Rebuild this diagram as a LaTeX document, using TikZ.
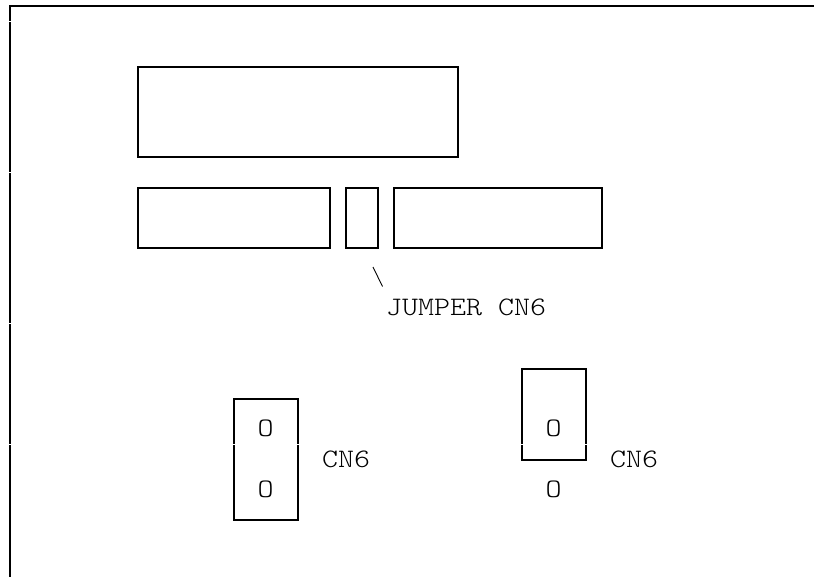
\documentclass[tikz,border=0pt]{standalone}
\usepackage{fontspec}
\setmonofont[FakeStretch=1.143]{Latin Modern Mono Light}
\usetikzlibrary{positioning}
\tikzset{
  board/.style={draw, line width=2pt, minimum width=#1, inner sep=0pt},
  lbl/.style={inner sep=0pt, font=\ttfamily\fontsize{26.67}{26.67}\selectfont, anchor=base west},
  pin/.style={inner sep=0pt, font=\ttfamily\fontsize{26.67}{26.67}\selectfont, anchor=base}
}
\begin{document}
\begin{tikzpicture}[x=1pt,y=-1pt]
\useasboundingbox (0,0) rectangle (814,577);
% frame
\coordinate (f0) at (9.7,577);
\coordinate (f1) at (9.7,6);
\coordinate (f2) at (814,6);
\draw[line width=2pt] (f0) -- (f1) -- (f2);
% boards
\node[board=320pt, minimum height=90pt] (top) at (298,112) {};
\node[board=192pt, minimum height=59.5pt] (left) at (234,218.25) {};
\node[board=32pt, minimum height=59.5pt] (mid) at (362,218.25) {};
\node[board=208pt, minimum height=59.5pt] (right) at (498,218.25) {};
% jumper label
\coordinate (s1) at (373,267);
\coordinate (s2) at (382.5,286.5);
\draw[line width=0.9pt] (s1) -- (s2);
\node[lbl] (jumper) at (386,316) {JUMPER CN6};
% connectors below
\node[board=64.3pt, minimum height=121pt] (cn1) at (265.85,459.5) {};
\node[board=64pt, minimum height=91pt] (cn2) at (554,414.5) {};
\foreach \name/\x/\y in {a/265.5/436.5, b/265.5/497, c/553.5/436.5, d/553.5/497}
  \node[pin] (\name) at (\x,\y) {O};
\node[lbl] (cn1lbl) at (322,467) {CN6};
\node[lbl] (cn2lbl) at (610,467) {CN6};
% breaks in the uprights
\foreach \x/\y in {9.7/21, 9.7/172, 9.7/323, 9.7/444, 233.7/444, 298/444, 522/444, 586/444}
  \fill[white] (\x-1.5,\y-0.4) rectangle (\x+1.5,\y+0.4);
\end{tikzpicture}
\end{document}
